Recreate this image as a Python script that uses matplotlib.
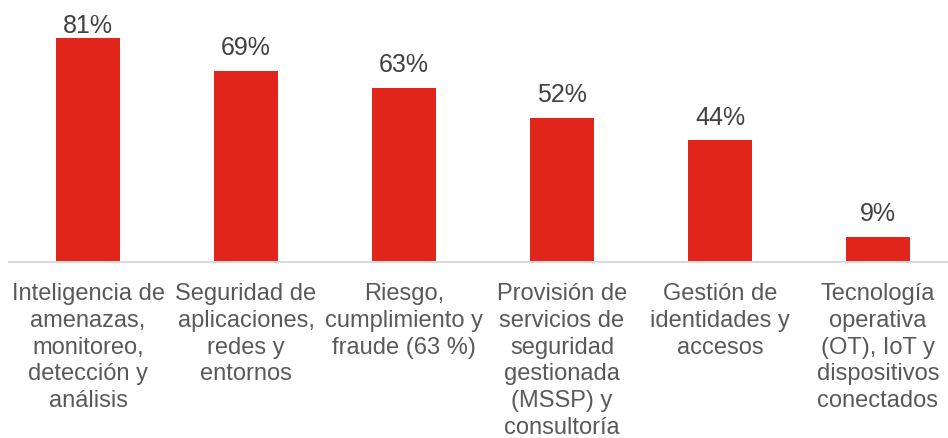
import matplotlib.pyplot as plt

categories = [
    "Inteligencia de\namenazas,\nmonitoreo,\ndetección y\nanálisis",
    "Seguridad de\naplicaciones,\nredes y\nentornos",
    "Riesgo,\ncumplimiento y\nfraude (63 %)",
    "Provisión de\nservicios de\nseguridad\ngestionada\n(MSSP) y\nconsultoría",
    "Gestión de\nidentidades y\naccesos",
    "Tecnología\noperativa\n(OT), IoT y\ndispositivos\nconectados",
]
values = [81, 69, 63, 52, 44, 9]

plt.rcParams['font.family'] = ['Liberation Sans', 'DejaVu Sans']

fig = plt.figure(figsize=(9.48, 4.39), dpi=100)
ax = fig.add_axes([9 / 948, (439 - 263) / 439, 939 / 948, 263 / 439])

ymax = 263 / 2.767
x = range(len(values))
bars = ax.bar(x, values, width=0.4, color='#E1251B')
for b, v in zip(bars, values):
    # labels near the top get pushed down to stay inside the chart
    y = min(v + 4.2, ymax - 13.6)
    ax.text(b.get_x() + b.get_width() / 2, y, f"{v}%",
            ha='center', va='bottom', fontsize=18, color='#404040')

ax.set_xlim(-0.5, -0.5 + 939 / 158)
ax.set_ylim(0, ymax)
ax.set_yticks([])
ax.set_xticks(list(x))
ax.set_xticklabels(categories, fontsize=17, color='#595959', linespacing=1.28)
ax.tick_params(axis='x', length=0, pad=14.5)
for s in ['top', 'right', 'left']:
    ax.spines[s].set_visible(False)
ax.spines['bottom'].set_color('#D9D9D9')
ax.spines['bottom'].set_linewidth(1.5)

fig.savefig('out.png', dpi=100)
